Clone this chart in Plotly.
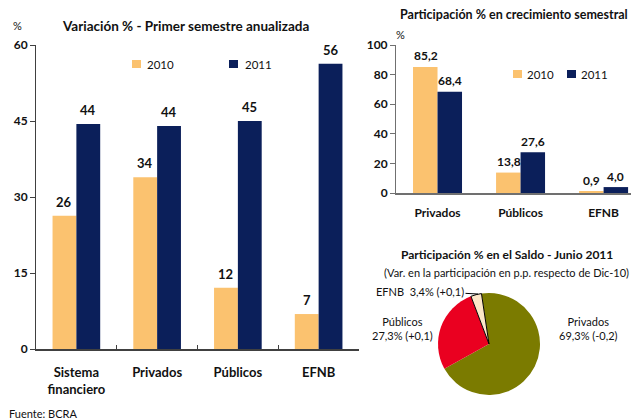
import plotly.graph_objects as go

# ---- data ----
cat_left = ["Sistema financiero", "Privados", "Públicos", "EFNB"]
var_2010 = [26.3, 33.9, 12.1, 6.9]
var_2011 = [44.4, 44.0, 45.0, 56.3]

cat_right = ["Privados", "Públicos", "EFNB"]
part_2010 = [85.2, 13.8, 0.9]
part_2011 = [68.4, 27.6, 4.0]

series_names = ["2010", "2011"]

pie_labels = ["Privados", "Públicos", "EFNB"]
pie_shares = [69.3, 27.3, 3.4]
pie_changes = [-0.2, 0.1, 0.1]

left_ticks = [0, 15, 30, 45, 60]
right_ticks = [0, 20, 40, 60, 80, 100]

C2010 = "#FBC26F"
C2011 = "#0B1F5A"
SERIES_COLORS = [C2010, C2011]
PIE_COLORS = ["#7B7B00", "#EA0020", "#FCE7C8"]
FONT = "Lato"
W, H = 631, 419


def px(x):
    return x / W


def py(y):
    return 1 - y / H


def fmt(v, sign=False):
    s = f"{v:+.1f}" if sign else f"{v:.1f}"
    return s.replace(".", ",")


# two-line tick labels so that every first line sits at the same height
left_ticktext = [c.replace(" ", "<br>") if " " in c else c + "<br> " for c in cat_left]

fig = go.Figure()

# left chart bars
for name, vals, col in zip(series_names, [var_2010, var_2011], SERIES_COLORS):
    fig.add_trace(go.Bar(x=cat_left, y=vals, name=name, marker_color=col,
                         xaxis="x", yaxis="y", showlegend=False))
# right chart bars
for name, vals, col in zip(series_names, [part_2010, part_2011], SERIES_COLORS):
    fig.add_trace(go.Bar(x=cat_right, y=vals, name=name, marker_color=col,
                         xaxis="x2", yaxis="y2", showlegend=False))

# pie
fig.add_trace(go.Pie(
    labels=pie_labels, values=pie_shares, sort=False, direction="clockwise",
    rotation=-8.5, textinfo="none", hoverinfo="label+percent", showlegend=False,
    marker=dict(colors=PIE_COLORS,
                line=dict(color=["rgba(0,0,0,0)", "rgba(0,0,0,0)", "#000000"],
                          width=[0, 0, 1])),
    domain=dict(x=[px(438), px(540)], y=[py(395), py(293)]),
))

ann = []
shapes = []
INK = "#111111"


def bold(size):
    return dict(family=FONT, size=size, color=INK, weight="bold")


def reg(size):
    return dict(family=FONT, size=size, color=INK)


def text(x, y, s, font, xa="center", ya="middle"):
    ann.append(dict(x=px(x), y=py(y), xref="paper", yref="paper", showarrow=False,
                    text=s, font=font, xanchor=xa, yanchor=ya))


# value labels
for cats, vals, shift, xr, yr, ys, dec, fs in [
    (cat_left, var_2010, -12, "x", "y", 14, False, 13),
    (cat_left, var_2011, 12, "x", "y", 14, False, 13),
    (cat_right, part_2010, -12, "x2", "y2", 11, True, 12),
    (cat_right, part_2011, 12, "x2", "y2", 11, True, 12),
]:
    for c, v in zip(cats, vals):
        ann.append(dict(x=c, y=v, xref=xr, yref=yr, text=fmt(v) if dec else f"{v:.0f}",
                        showarrow=False, xshift=shift, yshift=ys, xanchor="center",
                        yanchor="middle", font=bold(fs)))

# legends (swatch + label)
for i, name in enumerate(series_names):
    for sx, tx, sy0 in [((132, 229)[i], (145, 243)[i], 60), ((513, 567)[i], (525, 579)[i], 70)]:
        shapes.append(dict(type="rect", xref="paper", yref="paper",
                           x0=px(sx), x1=px(sx + 9), y0=py(sy0 + 8), y1=py(sy0),
                           fillcolor=SERIES_COLORS[i], line=dict(width=0)))
        text(tx, sy0 + 4, name, reg(11.5), xa="left")

# titles
text(185, 26, "Variación % - Primer semestre anualizada", bold(13.5))
text(17, 26, "%", reg(11))
text(630, 15, "Participación % en crecimiento semestral", bold(12.5), xa="right")
text(400, 35, "%", reg(11))
text(507, 254, "Participación % en el Saldo - Junio 2011", bold(12))
text(382, 272, "(Var. en la participación en p.p. respecto de Dic-10)", reg(11), xa="left")
text(7, 413, "Fuente: BCRA", reg(11), xa="left")

# pie labels
text(403, 328, f"{pie_labels[1]}<br>{fmt(pie_shares[1])}% ({fmt(pie_changes[1], True)})", reg(11))
text(588, 328, f"{pie_labels[0]}<br>{fmt(pie_shares[0])}% ({fmt(pie_changes[0], True)})", reg(11))
ann.append(dict(x=px(478), y=py(294), xref="paper", yref="paper", showarrow=True,
                arrowhead=0, arrowwidth=1, arrowcolor="#000000", ax=-58, ay=-3,
                text=f"{pie_labels[2]}  {fmt(pie_shares[2])}% ({fmt(pie_changes[2], True)})",
                font=reg(11)))

fig.update_layout(
    template="none",
    width=W, height=H, margin=dict(l=0, r=0, t=0, b=0, autoexpand=False),
    paper_bgcolor="white", plot_bgcolor="white",
    barmode="group", bargap=0.41, bargroupgap=0,
    separators=",.", showlegend=False,
    font=dict(family=FONT, color=INK),
    annotations=ann, shapes=shapes,
    xaxis=dict(domain=[px(36), px(359)], range=[-0.5, 3.5], showline=True,
               linecolor="#404040", linewidth=1.5, ticks="inside", tickson="boundaries",
               ticklen=4, tickcolor="#404040", tickfont=bold(13),
               tickvals=cat_left, ticktext=left_ticktext,
               ticklabelstandoff=11, showgrid=False, zeroline=False, anchor="y",
               fixedrange=True, automargin=False),
    yaxis=dict(domain=[py(349), py(45)], range=[0, 60], tickvals=left_ticks,
               showline=True, linecolor="#404040", linewidth=1, ticks="outside",
               ticklen=5, tickcolor="#404040", tickfont=bold(12), showgrid=False,
               zeroline=False, anchor="x", fixedrange=True, automargin=False),
    xaxis2=dict(domain=[px(396), 1.0], range=[-0.5, 2.33], showline=True,
                linecolor="#707070", linewidth=1.5, ticks="", tickfont=bold(12),
                ticklabelstandoff=8, showgrid=False, zeroline=False, anchor="y2",
                fixedrange=True, automargin=False),
    yaxis2=dict(domain=[py(193), py(45)], range=[0, 100], tickvals=right_ticks,
                showline=True, linecolor="#707070", linewidth=1, ticks="outside",
                ticklen=5, tickcolor="#707070", tickfont=bold(12), showgrid=False,
                zeroline=False, anchor="x2", fixedrange=True, automargin=False),
)

fig.write_html(
    "out.html",
    config={"displayModeBar": False},
    post_script="document.body.style.margin='0';document.body.style.overflow='hidden';",
)
